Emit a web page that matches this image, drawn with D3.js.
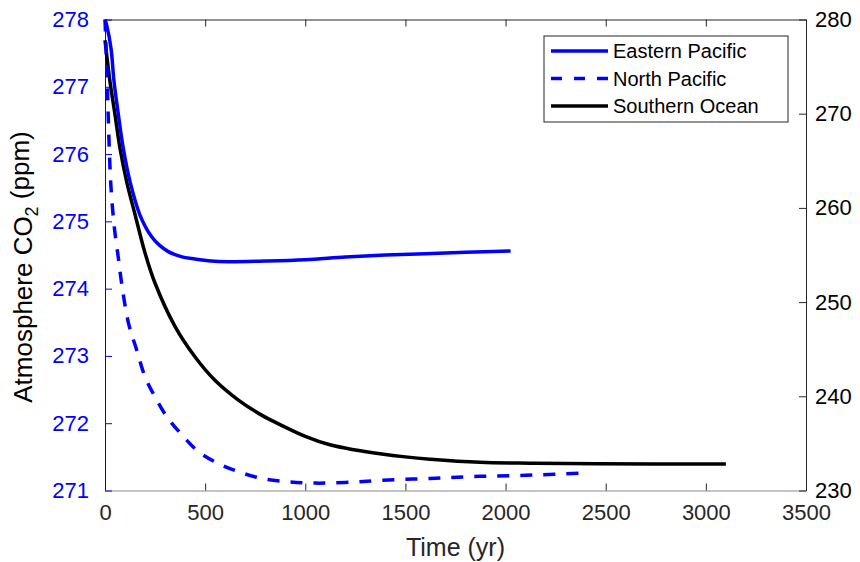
<!DOCTYPE html>
<html>
<head>
<meta charset="utf-8">
<script src="https://cdn.jsdelivr.net/npm/d3@7"></script>
<style>
  body { margin: 0; background: #fff; }
  text { font-family: "Liberation Sans", Arial, sans-serif; }
</style>
</head>
<body>
<div id="chart"></div>
<script>
// Eastern Pacific (left axis)
const epTime = [0, 8, 30, 45, 67, 91, 125, 175, 233, 270, 316, 380, 449, 530, 616, 800, 1000, 1200, 1400, 1600, 1800, 2025];
const epCO2  = [278, 277.92, 277.57, 277.08, 276.58, 276.09, 275.59, 275.09, 274.77, 274.65, 274.55, 274.475, 274.44, 274.41, 274.40, 274.41, 274.43, 274.47, 274.50, 274.52, 274.54, 274.56];

// North Pacific (left axis)
const npTime = [0, 10, 20, 30, 47, 67, 83, 117, 158, 200, 250, 308, 383, 466, 566, 666, 782, 915, 1050, 1200, 1373, 1623, 1872, 2137, 2400];
const npCO2  = [278, 277.2, 276.2, 275.5, 274.9, 274.45, 274.08, 273.49, 273.09, 272.69, 272.39, 272.10, 271.83, 271.58, 271.40, 271.28, 271.18, 271.13, 271.11, 271.12, 271.15, 271.18, 271.21, 271.23, 271.26];

// Southern Ocean (right axis)
const soTime = [0, 25, 50, 75, 108, 150, 200, 250, 350, 449, 549, 666, 782, 874, 1000, 1123, 1250, 1373, 1500, 1623, 1872, 2122, 2455, 3100];
const soCO2  = [277.8, 273.4, 269.9, 266.3, 262.8, 259.3, 255.2, 252.0, 247.4, 244.2, 241.7, 239.6, 238.0, 237.0, 235.75, 234.85, 234.3, 233.9, 233.57, 233.33, 233.0, 232.9, 232.85, 232.8];

const xTicks = [0, 500, 1000, 1500, 2000, 2500, 3000, 3500];
const leftTicks = [271, 272, 273, 274, 275, 276, 277, 278];
const rightTicks = [230, 240, 250, 260, 270, 280];
const legendNames = ["Eastern Pacific", "North Pacific", "Southern Ocean"];

const width = 860, height = 562;
const margin = {top: 19.5, left: 105, bottom: 71.5, right: 54};
const iwidth = width - margin.left - margin.right;
const iheight = height - margin.top - margin.bottom;

const svg = d3.select("#chart").append("svg")
    .attr("width", width)
    .attr("height", height);

const g = svg.append("g").attr("transform", `translate(${margin.left},${margin.top})`);

const x = d3.scaleLinear().domain([0, 3500]).range([0, iwidth]);
const yL = d3.scaleLinear().domain([271, 278]).range([iheight, 0]);
const yR = d3.scaleLinear().domain([230, 280]).range([iheight, 0]);

const tickFont = 22;

// top edge
g.append("g")
    .call(d3.axisTop(x).tickValues(xTicks).tickSizeInner(-7).tickSizeOuter(0).tickFormat(""))
    .call(a => a.selectAll("line,path").attr("stroke", "#262626"));

// bottom axis
g.append("g")
    .attr("transform", `translate(0,${iheight})`)
    .call(d3.axisBottom(x).tickValues(xTicks).tickSizeInner(-7).tickSizeOuter(0).tickPadding(14).tickFormat(d3.format("d")))
    .call(a => a.selectAll("line").attr("stroke", "#262626"))
    .call(a => a.select("path").attr("stroke", "#8a8a8a").attr("stroke-width", 1.2))
    .call(a => a.selectAll("text").attr("fill", "#262626").style("font-size", tickFont + "px"));

// right axis
g.append("g")
    .attr("transform", `translate(${iwidth},0)`)
    .call(d3.axisRight(yR).tickValues(rightTicks).tickSizeInner(-7).tickSizeOuter(0).tickPadding(9))
    .call(a => a.selectAll("line,path").attr("stroke", "#262626"))
    .call(a => a.selectAll("text").attr("fill", "#000").style("font-size", tickFont + "px"));

// left axis (blue)
g.append("g")
    .call(d3.axisLeft(yL).tickValues(leftTicks).tickSizeInner(-7).tickSizeOuter(0).tickPadding(16).tickFormat(d3.format("d")))
    .call(a => a.selectAll("line,path").attr("stroke", "#0000ff"))
    .call(a => a.selectAll("text").attr("fill", "#0000ff").style("font-size", tickFont + "px"));

// lines
const curve = d3.curveCatmullRom.alpha(0.5);
const lineL = d3.line().x(d => x(d[0])).y(d => yL(d[1])).curve(curve);
const lineR = d3.line().x(d => x(d[0])).y(d => yR(d[1])).curve(curve);

const plot = g.append("g");

plot.append("path")
    .datum(d3.zip(soTime, soCO2))
    .attr("d", lineR)
    .attr("fill", "none")
    .attr("stroke", "#000")
    .attr("stroke-width", 3.5);

plot.append("path")
    .datum(d3.zip(npTime, npCO2))
    .attr("d", lineL)
    .attr("fill", "none")
    .attr("stroke", "#0000ff")
    .attr("stroke-width", 3.5)
    .attr("stroke-dasharray", "12,11");

plot.append("path")
    .datum(d3.zip(epTime, epCO2))
    .attr("d", lineL)
    .attr("fill", "none")
    .attr("stroke", "#0000ff")
    .attr("stroke-width", 3.5);

// axis labels
svg.append("text")
    .attr("x", margin.left + iwidth / 2)
    .attr("y", 556)
    .attr("text-anchor", "middle")
    .style("font-size", "25px")
    .attr("fill", "#262626")
    .text("Time (yr)");

const yl = svg.append("text")
    .attr("transform", "translate(32,267) rotate(-90)")
    .attr("text-anchor", "middle")
    .style("font-size", "26px")
    .attr("fill", "#000");
yl.append("tspan").text("Atmosphere CO");
yl.append("tspan").attr("dy", "0.35em").style("font-size", "18px").text("2");
yl.append("tspan").attr("dy", "-0.35em").text(" (ppm)");

// legend
const legend = svg.append("g").attr("transform", "translate(544,36)");
legend.append("rect")
    .attr("width", 244).attr("height", 86)
    .attr("fill", "#fff").attr("stroke", "#262626").attr("stroke-width", 1);

const legendStyle = [
    {color: "#0000ff", dash: null},
    {color: "#0000ff", dash: "11,12"},
    {color: "#000", dash: null}
];

legendNames.forEach((name, i) => {
    const yy = 15 + i * 27.5;
    legend.append("line")
        .attr("x1", 7).attr("x2", 64).attr("y1", yy).attr("y2", yy)
        .attr("stroke", legendStyle[i].color)
        .attr("stroke-width", 3.5)
        .attr("stroke-dasharray", legendStyle[i].dash);
    legend.append("text")
        .attr("x", 69).attr("y", yy)
        .attr("dy", "0.35em")
        .style("font-size", "20px")
        .attr("fill", "#000")
        .text(name);
});
</script>
</body>
</html>
